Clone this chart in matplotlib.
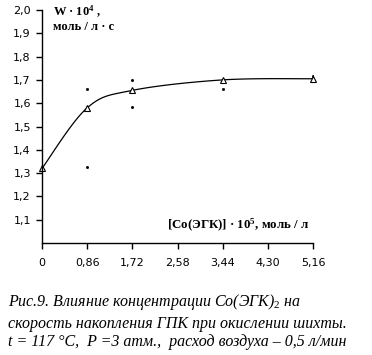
import numpy as np
import matplotlib
matplotlib.use("Agg")
import matplotlib.pyplot as plt

# concentration [Co(EGK)] * 1e5, mol/l and rate W * 1e4
conc = [0, 0.86, 1.72, 3.44, 5.16]
rate = [1.32, 1.58, 1.655, 1.70, 1.705]
# stray error-bar end dots
err_x = [0.86, 0.86, 1.72, 1.72, 3.44, 5.16]
err_y = [1.66, 1.325, 1.70, 1.585, 1.66, 1.715]

xticks = [0, 0.86, 1.72, 2.58, 3.44, 4.30, 5.16]
xticklabels = ["0", "0,86", "1,72", "2,58", "3,44", "4,30", "5,16"]
yticks = [1.1, 1.2, 1.3, 1.4, 1.5, 1.6, 1.7, 1.8, 1.9, 2.0]

plt.rcParams['mathtext.fontset'] = 'custom'
plt.rcParams['mathtext.rm'] = 'Liberation Serif'
plt.rcParams['mathtext.it'] = 'Liberation Serif:italic'
plt.rcParams['mathtext.bf'] = 'Liberation Serif:bold'


def smooth(xs, ys, n=30):
    # Excel-like smoothed line (Catmull-Rom through the points)
    xs = np.asarray(xs, float)
    ys = np.asarray(ys, float)
    px = np.concatenate([[xs[0]], xs, [xs[-1]]])
    py = np.concatenate([[ys[0]], ys, [ys[-1]]])
    ox, oy = [], []
    t = np.linspace(0, 1, n)
    for i in range(1, len(px) - 2):
        p0, p1, p2, p3 = (np.array([px[j], py[j]]) for j in (i - 1, i, i + 1, i + 2))
        c1 = p1 + (p2 - p0) / 6
        c2 = p2 - (p3 - p1) / 6
        b = ((1 - t) ** 3)[:, None] * p1 + (3 * (1 - t) ** 2 * t)[:, None] * c1 \
            + (3 * (1 - t) * t ** 2)[:, None] * c2 + (t ** 3)[:, None] * p2
        ox.extend(b[:, 0])
        oy.extend(b[:, 1])
    return ox, oy


fig = plt.figure(figsize=(3.72, 3.55), dpi=100)
ax = fig.add_axes([42 / 372, 1 - 243 / 355, 271 / 372, 233 / 355])

sx, sy = smooth(conc, rate)
ax.plot(sx, sy, color='black', lw=0.9, clip_on=False)
ax.plot(conc, rate, linestyle='none', marker='^', ms=5, mfc='white',
        mec='black', mew=0.8, clip_on=False)
ax.plot(err_x, err_y, linestyle='none', marker='s', ms=1, color='black')

ax.set_xlim(0, 5.16)
ax.set_ylim(1.0, 2.0)
ax.set_xticks(xticks)
ax.set_xticklabels(xticklabels)
ax.set_yticks(yticks)
ax.set_yticklabels([f"{v:.1f}".replace('.', ',') for v in yticks])
for s in ['top', 'right']:
    ax.spines[s].set_visible(False)
for s in ['left', 'bottom']:
    ax.spines[s].set_linewidth(1.0)
ax.tick_params(direction='out', length=4, width=1.0, labelsize=8, colors='black')
ax.tick_params(axis='x', pad=7)
ax.tick_params(axis='y', pad=4)

ax.text(0.04, 0.99, r"W · 10$^{\mathbf{4}}$ ,", transform=ax.transAxes,
        family='Liberation Serif', weight='bold', fontsize=9, va='center')
ax.text(0.04, 0.925, "моль / л · с", transform=ax.transAxes,
        family='Liberation Serif', weight='bold', fontsize=9, va='center')
ax.text(0.985, 0.077, r"[Co(ЭГК)] · 10$^{\mathbf{5}}$, моль / л", transform=ax.transAxes,
        family='Liberation Serif', weight='bold', fontsize=9.3, ha='right', va='center')

cap = dict(family='Liberation Serif', style='italic', fontsize=11.5, va='baseline')
fig.text(8 / 372, 1 - 306 / 355, r"Рис.9. Влияние концентрации Co(ЭГК)$_{2}$ на", **cap)
fig.text(8 / 372, 1 - 328 / 355, "скорость накопления ГПК при окислении шихты.", **cap)
fig.text(8 / 372, 1 - 346 / 355, "t = 117 °C,  P =3 атм.,  расход воздуха – 0,5 л/мин", **cap)

fig.savefig("out.png", dpi=100)
